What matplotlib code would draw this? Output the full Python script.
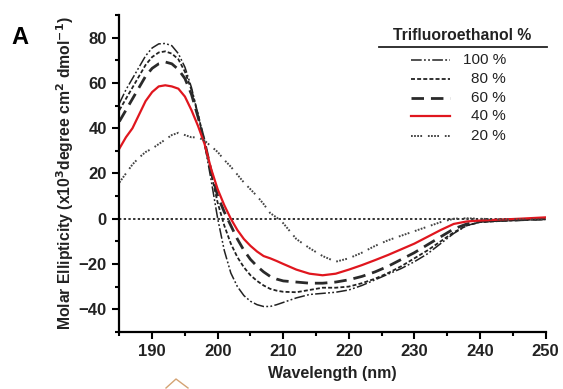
import matplotlib
matplotlib.use("Agg")
import matplotlib.pyplot as plt
from matplotlib.ticker import MultipleLocator
from matplotlib.lines import Line2D

plt.rcParams['font.family'] = ['Liberation Sans', 'DejaVu Sans']

# ---- data ----
wl = [185, 186, 187, 188, 189, 190, 191, 192, 193, 194, 195, 196, 197, 198, 199,
      200, 201, 202, 203, 204, 205, 206, 207, 208, 209, 210, 212, 214, 216, 218,
      220, 222, 224, 226, 228, 230, 232, 234, 236, 238, 240, 243, 246, 250]

tfe100 = [51, 57, 62, 67, 72, 75.5, 77.3, 77.5, 76.5, 73, 67, 58, 46, 33, 17,
          0, -14, -24, -30, -34, -36.5, -38, -38.8, -38.8, -38, -37, -35, -33.5, -33, -32.5,
          -31.5, -29.5, -27, -24.5, -22, -19, -15.5, -11, -6.5, -3, -1.5, -1, -0.7, -0.3]

tfe80 = [48, 53, 58, 63, 68, 71.5, 73.5, 74, 73, 70.5, 65, 57, 46, 34, 20,
         7, -3, -11, -17, -21.5, -25, -27.5, -29.5, -31, -31.8, -32.3, -32.5, -31.5, -30.5, -30.5,
         -30, -28.5, -26.5, -24, -21, -17.5, -14, -10, -6, -3, -1.5, -1, -0.6, -0.2]

tfe60 = [43, 48, 53, 58, 63, 66.5, 68.5, 69.3, 68.5, 66, 62, 55, 45, 34, 21,
         10, 3, -3, -9, -14, -18, -21, -23.5, -25.5, -26.7, -27.5, -28, -28.5, -28.5, -28,
         -27, -25.5, -23.5, -21, -18, -15, -11.5, -8, -4.5, -2.3, -1.2, -0.8, -0.5, 0]

tfe40 = [31, 36, 40, 46, 52, 56, 58.5, 59, 58.5, 57.5, 54, 48, 41, 33, 22,
         13, 6, 0, -5, -9, -12, -14.5, -16.5, -17.5, -18.7, -20, -22.5, -24.3, -25, -24.3,
         -22.5, -20.5, -18.3, -16, -13.5, -11, -8, -5, -2.3, -1.2, -0.8, -0.4, 0, 0.6]

tfe20 = [16, 20, 24, 27, 29.5, 31, 33, 35, 37, 38, 37, 36, 36, 34.5, 32,
         29.5, 26, 23, 19.5, 16, 13, 10, 6.5, 2.5, 0.5, -2, -9, -13, -16.5, -19,
         -17.5, -15, -12, -9.5, -7.5, -5.5, -3.5, -1.5, 0, 0.2, 0, -0.3, -0.3, -0.3]

labels = ['100 %', '80 %', '60 %', '40 %', '20 %']
legend_title = 'Trifluoroethanol %'
xticks = [190, 200, 210, 220, 230, 240, 250]
yticks = [-40, -20, 0, 20, 40, 60, 80]

series = [tfe100, tfe80, tfe60, tfe40, tfe20]
styles = [
    dict(color='#222222', lw=1.1, dashes=(7, 1.5, 1.2, 1.5, 1.2, 1.5)),
    dict(color='#222222', lw=1.3, dashes=(2.2, 1.2)),
    dict(color='#2a2a2a', lw=2.0, dashes=(4.5, 2.5)),
    dict(color='#e0161e', lw=1.6, dashes=None),
    dict(color='#444444', lw=1.4, dashes=(0.9, 0.7, 0.9, 0.7, 0.9, 0.7, 0.9, 3.0)),
]

fig = plt.figure(figsize=(5.63, 3.89), dpi=100)
ax = fig.add_axes([0.212, 0.147, 0.757, 0.814])

for y, st in zip(series, styles):
    kw = dict(color=st['color'], lw=st['lw'])
    line, = ax.plot(wl, y, **kw)
    if st['dashes']:
        line.set_dashes(st['dashes'])

ax.axhline(0, color='#222222', lw=1.3, dashes=(1.3, 1.3), zorder=0)

ax.set_xlim(185, 250)
ax.set_ylim(-50, 90)
ax.set_xticks(xticks)
ax.set_yticks(yticks)
ax.xaxis.set_minor_locator(MultipleLocator(5))
ax.yaxis.set_minor_locator(MultipleLocator(10))
for s in ['top', 'right']:
    ax.spines[s].set_visible(False)
for s in ['left', 'bottom']:
    ax.spines[s].set_linewidth(1.6)
ax.tick_params(which='major', direction='out', length=5, width=1.5, labelsize=12, pad=4)
ax.tick_params(which='minor', direction='out', length=3, width=1.5)
for lab in ax.get_xticklabels() + ax.get_yticklabels():
    lab.set_fontweight('bold')
    lab.set_color('#222222')

ax.set_xlabel('Wavelength (nm)', fontsize=11.5, fontweight='bold', labelpad=5, color='#222222')
ax.set_ylabel('Molar Ellipticity (x10$^\\mathbf{3}$degree cm$^\\mathbf{2}$ dmol$^\\mathbf{-1}$)',
              fontsize=11.3, fontweight='bold', labelpad=2, color='#222222')

fig.text(0.02, 0.888, 'A', fontsize=17, fontweight='bold')

# legend (manual, right-aligned labels)
W, H = 563, 389
fig.text(462 / W, 1 - 35 / H, legend_title, fontsize=11.3, fontweight='bold',
         ha='center', va='center', color='#222222')
fig.add_artist(Line2D([379 / W, 547 / W], [1 - 46.5 / H, 1 - 46.5 / H], color='#222222', lw=1.3))
rows = [60, 79, 98, 116, 136]
for lab, st, ry in zip(labels, styles, rows):
    yy = 1 - ry / H
    ln = Line2D([411 / W, 450 / W], [yy, yy], color=st['color'], lw=st['lw'])
    if st['dashes']:
        ln.set_dashes(st['dashes'])
    fig.add_artist(ln)
    fig.text(506 / W, yy, lab, fontsize=11, ha='right', va='center', color='#222222')

# small caret artifact at bottom
fig.add_artist(Line2D([166 / W, 176 / W, 188 / W], [1 - 388 / H, 1 - 379 / H, 1 - 388 / H],
                      color='#d4a373', lw=1.0))

fig.savefig('out.png', dpi=100)
